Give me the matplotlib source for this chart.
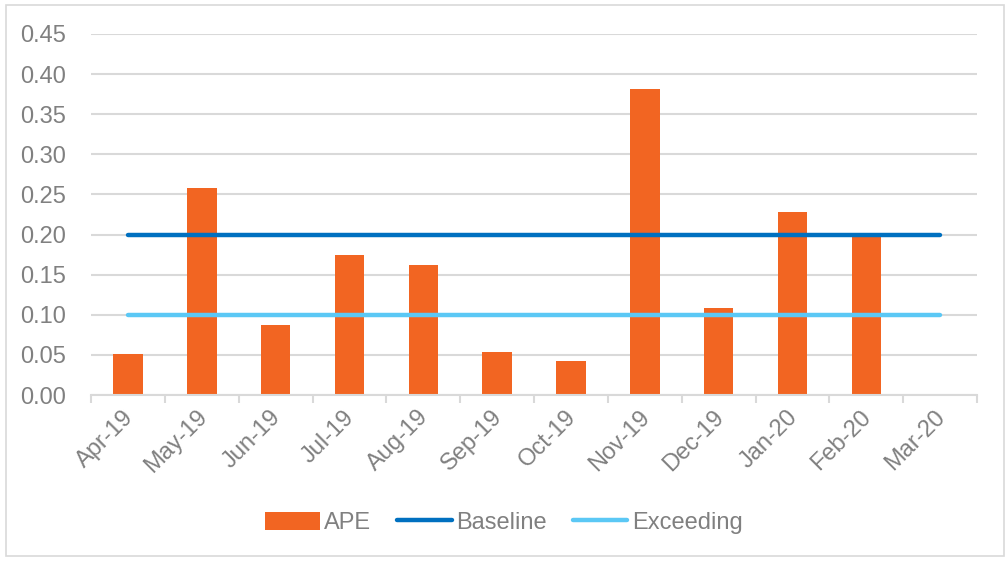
import numpy as np
import matplotlib.pyplot as plt
from matplotlib.patches import Rectangle
from matplotlib.transforms import ScaledTranslation

plt.rcParams['font.family'] = ['Liberation Sans', 'DejaVu Sans']

months = ['Apr-19', 'May-19', 'Jun-19', 'Jul-19', 'Aug-19', 'Sep-19',
          'Oct-19', 'Nov-19', 'Dec-19', 'Jan-20', 'Feb-20', 'Mar-20']
ape = [0.051, 0.258, 0.087, 0.175, 0.162, 0.053,
       0.042, 0.381, 0.108, 0.228, 0.198, np.nan]
baseline = [0.20] * 12
exceeding = [0.10] * 12

text_grey = '#808080'
grid_grey = '#D9D9D9'
fs = 17

fig = plt.figure(figsize=(10.08, 5.61), dpi=100)
ax = fig.add_axes([0.0903, 0.2959, 0.8790, 0.6435])

x = np.arange(len(months))
bars = ax.bar(x, ape, width=0.4, color='#F26522', label='APE', zorder=2)
l1, = ax.plot(x, baseline, color='#0070C0', lw=3.2, solid_capstyle='round',
              label='Baseline', zorder=3)
l2, = ax.plot(x, exceeding, color='#5BC8F5', lw=3.2, solid_capstyle='round',
              label='Exceeding', zorder=3)

ax.set_xlim(-0.5, len(months) - 0.5)
ax.set_ylim(0, 0.45)
ax.set_yticks(np.arange(0, 0.451, 0.05))
ax.set_yticklabels([f'{v:.2f}' for v in np.arange(0, 0.451, 0.05)])
ax.grid(axis='y', color=grid_grey, lw=1.5, zorder=0)

# month labels at bar centres, tick marks on category boundaries
ax.set_xticks(x)
ax.set_xticklabels(months, rotation=45, ha='right', va='top',
                   rotation_mode='anchor')
ax.set_xticks(np.arange(-0.5, len(months)), minor=True)
ax.tick_params(axis='x', which='major', length=0, pad=8,
               labelsize=fs, labelcolor=text_grey)
ax.tick_params(axis='x', which='minor', length=6, width=1.5, color=grid_grey)
ax.tick_params(axis='y', length=0, pad=18, labelsize=fs,
               labelcolor=text_grey)
shift = ScaledTranslation(-6 / 100, 0, fig.dpi_scale_trans)
for lab in ax.get_xticklabels():
    lab.set_transform(lab.get_transform() + shift)

for side in ['top', 'right', 'left']:
    ax.spines[side].set_visible(False)
ax.spines['bottom'].set_color(grid_grey)
ax.spines['bottom'].set_linewidth(1.5)

fig.legend([bars, l1, l2], ['APE', 'Baseline', 'Exceeding'],
           loc='center', bbox_to_anchor=(0.5, 0.068), ncol=3, frameon=False,
           fontsize=fs, labelcolor=text_grey, handlelength=2.3,
           handletextpad=0.2, columnspacing=1.1, handleheight=0.8)

fig.patches.append(Rectangle((0.006, 0.009), 0.990, 0.982,
                             transform=fig.transFigure, fill=False,
                             edgecolor=grid_grey, lw=1.2))

fig.savefig('out.png', dpi=100)
